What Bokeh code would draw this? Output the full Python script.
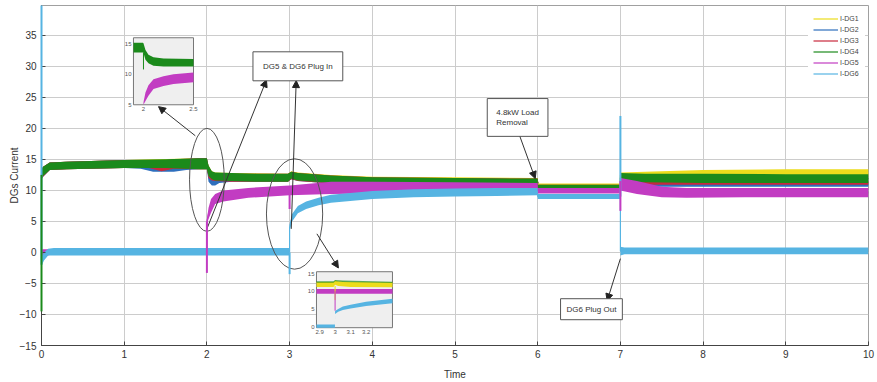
from bokeh.plotting import figure
from bokeh.models import (Range1d, FixedTicker, Label, Arrow, NormalHead,
                          Legend, LegendItem)
from bokeh.core.properties import value
from bokeh.embed import file_html
from bokeh.resources import INLINE

# ---------------- data ----------------
names = ["I-DG1", "I-DG2", "I-DG3", "I-DG4", "I-DG5", "I-DG6"]

t1 = [0.0, 0.02, 0.1, 0.3, 1.0, 1.9, 2.0, 2.02, 2.06, 2.1, 2.3, 2.98, 3.02, 3.1, 3.5, 4.0, 5.0, 6.0, 6.0, 7.0, 7.0, 7.3, 8.0, 9.0, 10.0]
lo1 = [11.8, 12.3, 13.3, 13.4, 13.6, 13.4, 13.4, 12.3, 11.8, 11.6, 11.5, 11.4, 11.9, 11.6, 11.2, 11.0, 11.0, 10.9, 10.4, 10.4, 12.0, 12.1, 12.2, 12.3, 12.3]
hi1 = [13.4, 13.8, 14.5, 14.6, 14.9, 15.2, 15.2, 14.0, 13.1, 12.9, 12.8, 12.7, 13.1, 12.9, 12.5, 12.2, 12.1, 12.0, 11.1, 11.1, 12.9, 13.0, 13.3, 13.4, 13.4]

t2 = [0.0, 0.02, 0.1, 0.3, 1.0, 1.2, 1.35, 1.6, 1.75, 1.9, 2.0, 2.02, 2.06, 2.1, 2.15, 2.3, 2.98, 3.02, 3.1, 3.5, 4.0, 5.0, 6.0, 6.0, 7.0, 7.0, 7.3, 8.0, 9.0, 10.0]
lo2 = [11.8, 12.2, 13.3, 13.4, 13.6, 13.5, 13.0, 13.0, 13.3, 13.4, 13.4, 11.4, 10.8, 10.8, 11.2, 11.4, 11.4, 11.8, 11.5, 11.1, 10.9, 10.9, 10.8, 10.2, 10.2, 10.6, 10.6, 10.6, 10.6, 10.6]
hi2 = [13.4, 13.8, 14.5, 14.6, 14.9, 14.9, 14.6, 14.8, 15.0, 15.2, 15.2, 13.8, 12.8, 12.6, 12.6, 12.6, 12.6, 12.9, 12.7, 12.3, 12.0, 11.9, 11.8, 10.8, 10.8, 11.3, 11.3, 11.2, 11.2, 11.2]

t3 = [0.0, 0.02, 0.1, 0.3, 1.0, 1.3, 1.45, 1.6, 1.9, 2.0, 2.02, 2.06, 2.1, 2.3, 2.98, 3.02, 3.1, 3.5, 4.0, 5.0, 6.0, 6.0, 7.0, 7.0, 7.3, 8.0, 9.0, 10.0]
lo3 = [11.8, 12.2, 13.3, 13.4, 13.6, 13.6, 13.1, 13.5, 13.4, 13.4, 12.0, 11.6, 11.5, 11.4, 11.4, 11.8, 11.5, 11.1, 10.9, 10.9, 10.8, 10.2, 10.2, 10.9, 10.9, 10.9, 10.9, 10.9]
hi3 = [13.4, 13.8, 14.5, 14.6, 14.9, 14.9, 14.8, 15.0, 15.2, 15.2, 13.9, 13.0, 12.8, 12.7, 12.7, 13.0, 12.8, 12.4, 12.1, 12.0, 11.9, 10.9, 10.9, 11.6, 11.6, 11.5, 11.5, 11.5]

t4 = [0.0, 0.02, 0.1, 0.3, 1.0, 1.5, 1.9, 2.0, 2.02, 2.06, 2.1, 2.3, 2.6, 2.98, 3.02, 3.1, 3.5, 4.0, 5.0, 6.0, 6.0, 7.0, 7.0, 7.3, 8.0, 9.0, 10.0]
lo4 = [11.8, 12.3, 13.3, 13.4, 13.6, 13.6, 13.4, 13.4, 12.3, 11.8, 11.6, 11.5, 11.4, 11.4, 11.9, 11.6, 11.2, 11.0, 11.0, 10.9, 10.3, 10.3, 11.3, 11.3, 11.2, 11.2, 11.2]
hi4 = [13.4, 13.8, 14.5, 14.6, 14.9, 15.0, 15.2, 15.2, 14.0, 13.1, 12.9, 12.8, 12.7, 12.7, 13.0, 12.8, 12.4, 12.1, 12.0, 11.9, 10.9, 10.9, 12.8, 12.7, 12.7, 12.6, 12.6]

t5 = [0.0, 0.1, 1.0, 2.0, 2.0, 2.02, 2.05, 2.1, 2.2, 2.5, 3.0, 3.5, 4.0, 5.0, 6.0, 6.0, 7.0, 7.0, 7.2, 7.5, 7.8, 8.5, 10.0]
lo5 = [-0.8, -0.4, -0.4, -0.4, 4.6, 5.4, 6.4, 7.8, 8.2, 8.8, 9.2, 9.4, 9.5, 9.8, 9.9, 9.5, 9.5, 10.0, 9.4, 8.9, 8.8, 8.9, 8.9]
hi5 = [0.5, 0.5, 0.5, 0.5, 5.4, 7.2, 8.6, 9.4, 10.0, 10.4, 10.8, 11.4, 11.4, 11.3, 11.2, 10.4, 10.4, 12.0, 11.5, 10.6, 10.4, 10.4, 10.4]

t6 = [0.0, 0.03, 0.08, 0.15, 1.0, 2.0, 3.0, 3.0, 3.03, 3.1, 3.2, 3.35, 3.5, 4.0, 4.5, 5.0, 5.5, 6.0, 6.0, 7.0, 7.0, 7.05, 8.0, 10.0]
lo6 = [-2.2, -1.3, -0.5, -0.5, -0.5, -0.5, -0.5, 3.5, 5.0, 6.3, 7.0, 7.6, 8.0, 8.6, 8.9, 9.0, 9.1, 9.2, 8.6, 8.6, -0.5, -0.3, -0.3, -0.3]
hi6 = [-0.8, 0.0, 0.6, 0.7, 0.7, 0.7, 0.7, 4.6, 6.2, 7.5, 8.2, 8.8, 9.3, 9.9, 10.2, 10.3, 10.4, 10.4, 9.4, 9.4, 0.9, 0.8, 0.8, 0.8]

# switching transients (thin vertical spikes)
spike_t = [0.0, 0.0, 2.0, 3.0, 3.0, 7.0, 7.0]
spike_lo = [-2.0, -9.5, -3.3, -3.5, 7.0, 9.0, 6.7]
spike_hi = [39.8, 12.5, 5.0, 0.0, 10.5, 22.0, 11.5]
spike_series = ["I-DG6", "I-DG4", "I-DG5", "I-DG6", "I-DG5", "I-DG6", "I-DG5"]

# inset 1 (zoom around t = 2)
ins1_g_t = [1.9, 1.995, 2.0, 2.02, 2.05, 2.1, 2.2, 2.5]
ins1_g_lo = [13.6, 13.6, 13.5, 12.4, 11.8, 11.4, 11.3, 11.3]
ins1_g_hi = [15.2, 15.2, 15.1, 14.0, 13.2, 12.8, 12.6, 12.5]
ins1_m_t = [2.0, 2.02, 2.05, 2.1, 2.2, 2.3, 2.5]
ins1_m_lo = [5.0, 5.6, 6.5, 7.6, 8.1, 8.4, 8.7]
ins1_m_hi = [5.4, 7.0, 8.2, 9.2, 9.7, 10.0, 10.3]
ins1_xticks = [2.0, 2.5]
ins1_xlabels = ["2", "2.5"]
ins1_yticks = [5, 10, 15]

# inset 2 (zoom around t = 3)
ins2_y_t = [2.88, 2.99, 3.0, 3.02, 3.1, 3.37]
ins2_y_lo = [11.2, 11.2, 11.8, 11.5, 11.2, 11.1]
ins2_y_hi = [12.6, 12.6, 13.0, 12.8, 12.6, 12.5]
ins2_g_t = [2.88, 2.99, 3.0, 3.05, 3.37]
ins2_g_lo = [12.4, 12.4, 12.8, 12.6, 12.3]
ins2_g_hi = [12.8, 12.8, 13.2, 13.0, 12.7]
ins2_m_t = [2.88, 3.37]
ins2_m_lo = [9.3, 9.3]
ins2_m_hi = [10.6, 10.6]
ins2_c_t = [2.88, 2.999, 3.0, 3.02, 3.05, 3.1, 3.2, 3.37]
ins2_c_lo = [-0.3, -0.3, 3.6, 4.2, 4.7, 5.1, 5.8, 6.6]
ins2_c_hi = [0.6, 0.6, 4.4, 5.0, 5.7, 6.2, 7.0, 7.9]
ins2_spike_t = [3.0, 3.0]
ins2_spike_lo = [7.5, 4.5]
ins2_spike_hi = [11.5, 10.0]
ins2_spike_series = ["I-DG1", "I-DG5"]
ins2_xticks = [2.9, 3.0, 3.1, 3.2]
ins2_xlabels = ["2.9", "3", "3.1", "3.2"]
ins2_yticks = [0, 5, 10, 15]

x_ticks = list(range(0, 11))
y_ticks = [-15, -10, -5, 0, 5, 10, 15, 20, 25, 30, 35]

# ---------------- styling ----------------
colors = {"I-DG1": "#ecdc1c", "I-DG2": "#2e6fbd", "I-DG3": "#c8283c",
          "I-DG4": "#1b8a1b", "I-DG5": "#c23cc2", "I-DG6": "#56b4e2"}
FONT = "Liberation Sans"

p = figure(width=877, height=382, output_backend="svg", toolbar_location=None,
           x_range=Range1d(0, 10), y_range=Range1d(-15, 39.8),
           min_border_left=41, min_border_right=9, min_border_top=5,
           min_border_bottom=37)
p.background_fill_color = "white"
p.border_fill_color = "white"
p.outline_line_color = "#a0a0a0"

for ax, ticks in ((p.xaxis, x_ticks), (p.yaxis, y_ticks)):
    ax.ticker = FixedTicker(ticks=ticks)
    ax.major_label_text_font = FONT
    ax.major_label_text_font_size = "10px"
    ax.major_label_text_color = "#333333"
    ax.axis_label_text_font = FONT
    ax.axis_label_text_font_size = "10px"
    ax.axis_label_text_font_style = "normal"
    ax.axis_label_text_color = "#333333"
    ax.axis_line_color = "#444444"
    ax.major_tick_in = 4
    ax.major_tick_out = 0
    ax.major_tick_line_color = "#444444"
    ax.minor_tick_line_color = None
p.xaxis.axis_label = "Time"
p.yaxis.axis_label = "DGs Current"
p.xaxis.major_label_standoff = 4
p.xaxis.axis_label_standoff = 8
p.yaxis.major_label_standoff = 5
p.yaxis.axis_label_standoff = -3
p.grid.grid_line_color = "#cccccc"
p.grid.grid_line_width = 1

series = [(t1, lo1, hi1), (t2, lo2, hi2), (t3, lo3, hi3),
          (t4, lo4, hi4), (t5, lo5, hi5), (t6, lo6, hi6)]

items = []
for name, (t, lo, hi) in zip(names, series):
    mid = [(a + b) / 2 for a, b in zip(lo, hi)]
    r = p.line(t, mid, line_color=colors[name], line_width=1.2)
    items.append(LegendItem(label=name, renderers=[r]))
for name, (t, lo, hi) in zip(names, series):
    p.varea(x=t, y1=lo, y2=hi, fill_color=colors[name], fill_alpha=1)

p.segment(x0=spike_t, y0=spike_lo, x1=spike_t, y1=spike_hi,
          line_color=[colors[s] for s in spike_series], line_width=2,
          level="overlay")

# ellipses marking the events
p.ellipse(x=[2.0, 3.06], y=[11.7, 6.2], width=[0.42, 0.68], height=[16.6, 17.8],
          fill_alpha=0, line_color="#555555", line_width=1)

# ---------------- insets ----------------
ins1 = p.subplot(x_source=Range1d(1.9, 2.5), y_source=Range1d(5, 16),
                 x_target=Range1d(1.112, 1.838), y_target=Range1d(23.8, 34.6))
ins1.quad(left=[1.9], right=[2.5], bottom=[5], top=[16],
          fill_color="#efefef", line_color="#777777", line_width=1)
ins1.varea(x=ins1_g_t, y1=ins1_g_lo, y2=ins1_g_hi, fill_color=colors["I-DG4"])
ins1.segment(x0=[2.0], y0=[10.8], x1=[2.0], y1=[13.5], line_color=colors["I-DG4"], line_width=1)
ins1.varea(x=ins1_m_t, y1=ins1_m_lo, y2=ins1_m_hi, fill_color=colors["I-DG5"])
ins1.text(x=[1.9] * len(ins1_yticks), y=ins1_yticks, text=[str(v) for v in ins1_yticks],
          x_offset=-2, text_align="right", text_baseline="middle",
          text_font=value(FONT), text_font_size="6px", text_color="#555555")
ins1.text(x=ins1_xticks, y=[5] * len(ins1_xticks), text=ins1_xlabels, y_offset=2,
          text_align="center", text_baseline="top",
          text_font=value(FONT), text_font_size="6px", text_color="#555555")

ins2 = p.subplot(x_source=Range1d(2.88, 3.37), y_source=Range1d(-0.3, 15.5),
                 x_target=Range1d(3.325, 4.244), y_target=Range1d(-12.13, -3.11))
ins2.quad(left=[2.88], right=[3.37], bottom=[-0.3], top=[15.5],
          fill_color="#efefef", line_color="#777777", line_width=1)
ins2.varea(x=ins2_y_t, y1=ins2_y_lo, y2=ins2_y_hi, fill_color=colors["I-DG1"])
ins2.varea(x=ins2_g_t, y1=ins2_g_lo, y2=ins2_g_hi, fill_color=colors["I-DG4"], fill_alpha=0.7)
ins2.varea(x=ins2_m_t, y1=ins2_m_lo, y2=ins2_m_hi, fill_color=colors["I-DG5"])
ins2.varea(x=ins2_c_t, y1=ins2_c_lo, y2=ins2_c_hi, fill_color=colors["I-DG6"])
ins2.segment(x0=ins2_spike_t, y0=ins2_spike_lo, x1=ins2_spike_t, y1=ins2_spike_hi,
             line_color=[colors[s] for s in ins2_spike_series], line_width=1)
ins2.text(x=[2.88] * len(ins2_yticks), y=ins2_yticks, text=[str(v) for v in ins2_yticks],
          x_offset=-2, text_align="right", text_baseline="middle",
          text_font=value(FONT), text_font_size="6px", text_color="#555555")
ins2.text(x=ins2_xticks, y=[-0.3] * len(ins2_xticks), text=ins2_xlabels, y_offset=2,
          text_align="center", text_baseline="top",
          text_font=value(FONT), text_font_size="6px", text_color="#555555")

# ---------------- annotations ----------------
arrows = [((1.86, 18.8), (1.415, 23.5)),
          ((2.0, 3.8), (2.72, 27.8)),
          ((3.02, 3.8), (3.08, 27.7)),
          ((3.33, 3.0), (3.59, -2.5)),
          ((5.76, 19.6), (5.97, 11.9)),
          ((7.0, -1.0), (6.84, -7.8))]
for (xs, ys), (xe, ye) in arrows:
    p.add_layout(Arrow(x_start=xs, y_start=ys, x_end=xe, y_end=ye,
                       line_color="#333333", line_width=1,
                       end=NormalHead(size=7, fill_color="#222222",
                                      line_color="#222222")))

label_style = dict(text_font=FONT, text_font_size="8px", text_color="#333333",
                   border_line_color="#555555", border_line_width=1,
                   background_fill_color="white")
p.add_layout(Label(x=3.1, y=30.0, text="DG5 & DG6 Plug In", text_align="center",
                   text_baseline="middle", padding=10, **label_style))
p.add_layout(Label(x=5.39, y=24.8, text="4.8kW Load\nRemoval", text_align="left",
                   text_baseline="top", padding=9, **label_style))
p.add_layout(Label(x=6.65, y=-9.15, text="DG6 Plug Out", text_align="center",
                   text_baseline="middle", padding=6, **label_style))

legend = Legend(items=items, location="top_right", margin=3, padding=5, spacing=0,
                label_text_font=FONT, label_text_font_size="7px",
                label_text_color="#444444", label_height=11, glyph_height=11,
                glyph_width=25, label_standoff=2, border_line_alpha=0,
                background_fill_color="white", background_fill_alpha=1)
p.add_layout(legend)

open("out.html", "w").write(file_html(p, INLINE))
